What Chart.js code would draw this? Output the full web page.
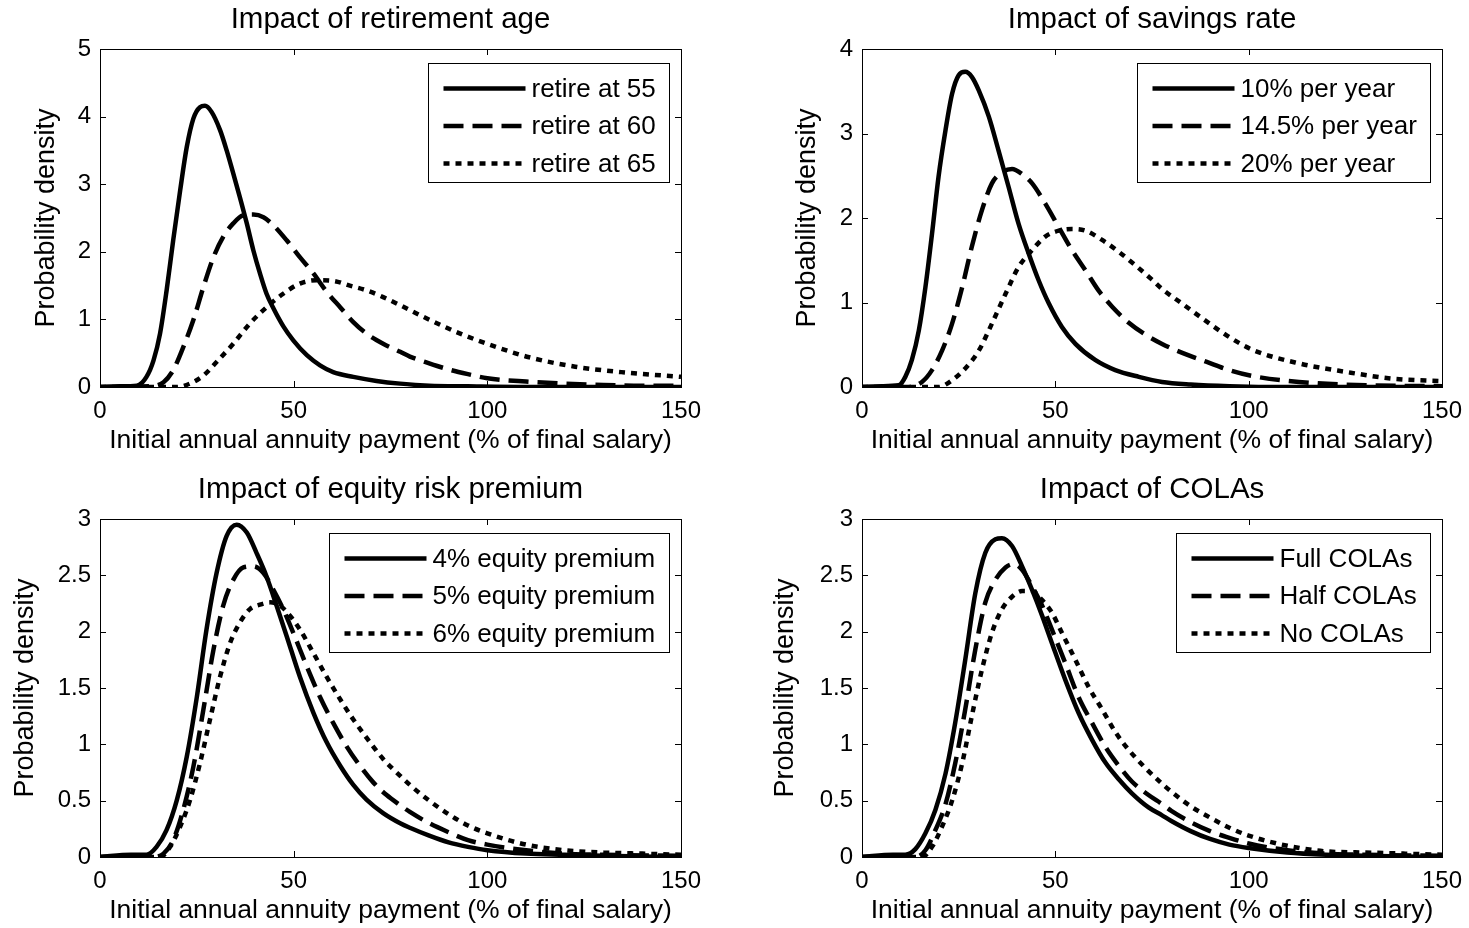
<!DOCTYPE html>
<html>
<head>
<meta charset="UTF-8">
<title>Annuity payment densities</title>
<script src="https://cdn.jsdelivr.net/npm/chart.js@4.4.1/dist/chart.umd.min.js"></script>
<style>
	body { margin: 0; background: #fff; }
	.panel { position: absolute; }
</style>
</head>

<body>
	<div class="panel" style="left:0px;top:0px;width:720px;height:458px"><canvas id="c1"></canvas></div>
	<div class="panel" style="left:740px;top:0px;width:729px;height:458px"><canvas id="c2"></canvas></div>
	<div class="panel" style="left:0px;top:470px;width:720px;height:458px"><canvas id="c3"></canvas></div>
	<div class="panel" style="left:740px;top:470px;width:729px;height:458px"><canvas id="c4"></canvas></div>

	<script>
	// x = % of final salary, y = density

	// impact of retirement age
	var age55X = [0, 5, 9.5, 12, 13.8, 15.5, 17.2, 18.9, 20.7, 22.4, 24.1, 25.8, 27.1, 28.8, 31, 32.7, 34.4, 36.1, 37.9, 39.6, 41.3, 43, 44.8, 47.3, 49.9, 53.4, 56.8, 60.2, 65.4, 71.4, 77.5, 85, 95, 110, 150];
	var age55Y = [0, 0.01, 0.02, 0.15, 0.39, 0.79, 1.43, 2.17, 2.91, 3.55, 3.97, 4.14, 4.16, 4.07, 3.80, 3.50, 3.16, 2.81, 2.42, 2.02, 1.68, 1.38, 1.16, 0.90, 0.69, 0.47, 0.32, 0.22, 0.15, 0.09, 0.05, 0.02, 0.01, 0, 0];
	var age60X = [0, 12.9, 16.4, 18.9, 21.5, 24.1, 26.7, 29.3, 31.8, 34.4, 37, 39.6, 42.2, 44.8, 48.2, 51.6, 55.1, 58.5, 62, 65.4, 68.8, 73.1, 77.5, 80, 85, 90, 95, 100, 110, 120, 130, 140, 150];
	var age60Y = [0, 0.01, 0.07, 0.25, 0.59, 0.99, 1.48, 1.92, 2.22, 2.42, 2.54, 2.55, 2.51, 2.39, 2.17, 1.92, 1.68, 1.41, 1.18, 0.96, 0.79, 0.64, 0.52, 0.45, 0.35, 0.26, 0.19, 0.13, 0.08, 0.05, 0.03, 0.02, 0.02];
	var age65X = [0, 19.8, 23.2, 26.7, 30.1, 34.4, 38.7, 43, 47.3, 51.6, 55.9, 60.2, 64.5, 68.8, 73.1, 77.5, 83.4, 93, 102.4, 110.8, 122.7, 134.6, 150];
	var age65Y = [0, 0, 0.05, 0.17, 0.37, 0.64, 0.94, 1.18, 1.38, 1.53, 1.58, 1.57, 1.50, 1.43, 1.33, 1.21, 1.04, 0.79, 0.59, 0.44, 0.30, 0.22, 0.15];

	// impact of savings rate
	var sav10X = [0, 5, 9.5, 11.2, 12.9, 14.7, 16.4, 18.1, 19.8, 21.6, 23.3, 25, 26.7, 28.4, 30.2, 32.8, 35.3, 37.9, 40.5, 43.1, 45.7, 48.3, 51.7, 55.2, 60.3, 65.5, 71.6, 77.6, 85, 95, 110, 150];
	var sav10Y = [0, 0.01, 0.02, 0.12, 0.32, 0.67, 1.18, 1.81, 2.49, 3.04, 3.47, 3.69, 3.73, 3.67, 3.51, 3.20, 2.80, 2.37, 1.93, 1.58, 1.26, 0.99, 0.71, 0.51, 0.32, 0.20, 0.12, 0.06, 0.03, 0.01, 0, 0];
	var sav145X = [0, 12, 15.5, 18.1, 20.7, 23.3, 25.9, 28.4, 31, 33.6, 36.2, 38.8, 41.4, 44, 47.4, 50.9, 54.3, 57.8, 61.2, 64.7, 69, 73.3, 77.6, 83, 89, 95, 101, 113, 131, 150];
	var sav145Y = [0, 0, 0.06, 0.2, 0.43, 0.75, 1.18, 1.66, 2.09, 2.41, 2.54, 2.58, 2.52, 2.41, 2.17, 1.89, 1.62, 1.38, 1.14, 0.95, 0.76, 0.62, 0.51, 0.40, 0.30, 0.2, 0.13, 0.06, 0.02, 0.01];
	var sav20X = [0, 19.8, 23.3, 26.7, 30.2, 33.6, 37.1, 40.5, 44, 47.4, 50.9, 54.3, 57.8, 62.1, 66.4, 70.7, 75, 77.6, 83, 89, 95, 101, 113, 125, 137, 150];
	var sav20Y = [0, 0, 0.08, 0.22, 0.43, 0.75, 1.10, 1.42, 1.62, 1.78, 1.85, 1.87, 1.85, 1.74, 1.60, 1.44, 1.27, 1.16, 0.98, 0.78, 0.59, 0.44, 0.28, 0.18, 0.10, 0.07];

	// impact of equity risk premium
	var eq4X = [0, 8, 12, 14.6, 17.2, 19.8, 22.4, 25, 27.5, 30.1, 32.7, 35.3, 37.9, 40.4, 43, 45.6, 48.2, 51.6, 55.1, 58.5, 62, 65.4, 68.8, 73.1, 77.5, 80, 85, 90, 95, 100, 110, 120, 130, 150];
	var eq4Y = [0, 0.02, 0.02, 0.09, 0.24, 0.50, 0.89, 1.42, 2.02, 2.52, 2.85, 2.95, 2.88, 2.70, 2.49, 2.23, 1.96, 1.60, 1.28, 1.02, 0.81, 0.64, 0.51, 0.39, 0.30, 0.26, 0.19, 0.13, 0.09, 0.06, 0.03, 0.02, 0.01, 0];
	var eq5X = [0, 13.8, 16.4, 18.9, 21.5, 24.1, 26.7, 29.3, 31.8, 34.4, 37, 39.6, 42.2, 44.8, 47.3, 49.9, 53.4, 56.8, 60.2, 63.7, 67.1, 70.6, 74, 77.5, 80, 85, 90, 95, 100, 110, 120, 130, 150];
	var eq5Y = [0, 0, 0.03, 0.15, 0.42, 0.80, 1.31, 1.84, 2.23, 2.46, 2.57, 2.58, 2.52, 2.37, 2.20, 1.99, 1.69, 1.42, 1.19, 0.98, 0.81, 0.66, 0.55, 0.46, 0.40, 0.30, 0.22, 0.15, 0.11, 0.06, 0.03, 0.02, 0.01];
	var eq6X = [0, 15.5, 18.1, 20.7, 23.2, 25.8, 28.4, 31, 33.6, 36.1, 38.7, 41.3, 43.9, 46.5, 49.1, 51.6, 55.1, 58.5, 62, 65.4, 68.8, 73.1, 77.5, 80, 85, 90, 95, 100, 110, 120, 130, 140, 150];
	var eq6Y = [0, 0, 0.09, 0.27, 0.50, 0.83, 1.22, 1.60, 1.90, 2.08, 2.20, 2.24, 2.26, 2.23, 2.14, 2.02, 1.81, 1.60, 1.40, 1.22, 1.06, 0.87, 0.72, 0.64, 0.50, 0.38, 0.28, 0.21, 0.11, 0.06, 0.04, 0.03, 0.02];

	// impact of COLAs
	var fullX = [0, 8, 11.2, 13.8, 16.4, 19, 21.6, 24.1, 26.7, 29.3, 31.9, 34.5, 36.2, 38.8, 41.4, 44, 46.6, 49.1, 52.6, 56, 59.5, 62.9, 66.4, 69.8, 74.1, 77.6, 80, 85, 90, 95, 100, 110, 120, 130, 150];
	var fullY = [0, 0.02, 0.02, 0.07, 0.21, 0.42, 0.74, 1.19, 1.75, 2.34, 2.70, 2.82, 2.83, 2.76, 2.58, 2.37, 2.14, 1.90, 1.57, 1.28, 1.04, 0.84, 0.69, 0.565, 0.44, 0.37, 0.32, 0.23, 0.16, 0.11, 0.08, 0.04, 0.02, 0.01, 0];
	var halfX = [0, 13.8, 16.4, 19, 21.6, 24.1, 26.7, 29.3, 31.9, 34.5, 37.1, 39.2, 41.4, 44, 46.6, 49.1, 52.6, 56, 59.5, 62.9, 66.4, 69.8, 74.1, 77.6, 80, 85, 90, 95, 100, 110, 120, 130, 150];
	var halfY = [0, 0, 0.06, 0.24, 0.47, 0.83, 1.31, 1.84, 2.26, 2.46, 2.57, 2.60, 2.55, 2.40, 2.23, 2.02, 1.72, 1.42, 1.19, 0.98, 0.81, 0.67, 0.55, 0.47, 0.41, 0.31, 0.23, 0.17, 0.12, 0.06, 0.03, 0.02, 0.01];
	var noneX = [0, 15.5, 18.1, 20.7, 23.3, 25.9, 28.4, 31, 33.6, 36.2, 38.8, 41.4, 44, 46.6, 49.1, 51.7, 55.2, 58.6, 62.1, 65.5, 69, 73.3, 77.6, 80, 85, 90, 95, 100, 110, 120, 130, 140, 150];
	var noneY = [0, 0, 0.09, 0.27, 0.50, 0.83, 1.25, 1.66, 1.99, 2.20, 2.31, 2.36, 2.36, 2.28, 2.17, 1.99, 1.75, 1.51, 1.31, 1.11, 0.95, 0.79, 0.65, 0.58, 0.45, 0.35, 0.26, 0.19, 0.10, 0.05, 0.04, 0.03, 0.02];

	var titles = ['Impact of retirement age', 'Impact of savings rate', 'Impact of equity risk premium', 'Impact of COLAs'];
	var ageLabels = ['retire at 55', 'retire at 60', 'retire at 65'];
	var savLabels = ['10% per year', '14.5% per year', '20% per year'];
	var eqLabels = ['4% equity premium', '5% equity premium', '6% equity premium'];
	var colaLabels = ['Full COLAs', 'Half COLAs', 'No COLAs'];
	var xTitle = 'Initial annual annuity payment (% of final salary)';
	var yTitle = 'Probability density';

	Chart.defaults.font.family = '"Liberation Sans", Arial, Helvetica, sans-serif';
	Chart.defaults.color = '#000';

	var styles = [[], [20, 9], [6, 6]];

	function pts(xs, ys) {
		return xs.map(function(x, i) { return {x: x, y: ys[i]}; });
	}

	// matlab look: box round the axes, ticks pointing in, legend box inside
	var matlabAxes = {
		id: 'matlabAxes',
		afterDraw: function(chart, args, opts) {
			var ctx = chart.ctx, a = chart.chartArea;
			var sx = chart.scales.x, sy = chart.scales.y;
			ctx.save();
			ctx.strokeStyle = '#000';
			ctx.lineWidth = 1;
			ctx.setLineDash([]);
			ctx.strokeRect(Math.round(a.left) + 0.5, Math.round(a.top) + 0.5, Math.round(a.right - a.left), Math.round(a.bottom - a.top));
			ctx.beginPath();
			sx.ticks.forEach(function(t) {
				var p = Math.round(sx.getPixelForValue(t.value)) + 0.5;
				ctx.moveTo(p, a.bottom); ctx.lineTo(p, a.bottom - 6);
				ctx.moveTo(p, a.top); ctx.lineTo(p, a.top + 6);
			});
			sy.ticks.forEach(function(t) {
				var p = Math.round(sy.getPixelForValue(t.value)) + 0.5;
				ctx.moveTo(a.left, p); ctx.lineTo(a.left + 6, p);
				ctx.moveTo(a.right, p); ctx.lineTo(a.right - 6, p);
			});
			ctx.stroke();

			// legend
			var ds = chart.data.datasets;
			ctx.font = '26px "Liberation Sans", Arial, sans-serif';
			var tw = 0;
			ds.forEach(function(d) { tw = Math.max(tw, ctx.measureText(d.label).width); });
			var bw = Math.round(15 + 82 + 6 + tw + 14), bh = 119;
			var bx = Math.round(a.right - 12 - bw) + 0.5, by = Math.round(a.top + 14) + 0.5;
			ctx.fillStyle = '#fff';
			ctx.fillRect(bx, by, bw, bh);
			ctx.strokeRect(bx, by, bw, bh);
			ds.forEach(function(d, i) {
				var ry = by + 25 + i * 37.5;
				ctx.beginPath();
				ctx.lineWidth = 4.5;
				ctx.lineCap = 'butt';
				ctx.setLineDash(d.borderDash);
				ctx.moveTo(bx + 15, ry);
				ctx.lineTo(bx + 15 + 82, ry);
				ctx.stroke();
				ctx.setLineDash([]);
				ctx.fillStyle = '#000';
				ctx.textAlign = 'left';
				ctx.textBaseline = 'middle';
				ctx.fillText(d.label, bx + 15 + 82 + 6, ry + 1);
			});
			ctx.restore();
		}
	};

	function makePanel(id, title, labels, series, ymax, ystep, yWidth, yTitlePad) {
		var datasets = series.map(function(s, i) {
			return {
				label: labels[i],
				data: pts(s[0], s[1]),
				borderColor: '#000',
				borderWidth: 4.5,
				borderDash: styles[i],
				borderCapStyle: 'butt',
				pointRadius: 0,
				fill: false,
				tension: 0.4,
				cubicInterpolationMode: 'monotone'
			};
		});
		return new Chart(document.getElementById(id), {
			type: 'line',
			data: { datasets: datasets },
			plugins: [matlabAxes],
			options: {
				responsive: true,
				maintainAspectRatio: false,
				animation: false,
				layout: { padding: { left: 0, right: yWidth == 100 ? 39 : 27, top: 0, bottom: 0 } },
				plugins: {
					legend: { display: false },
					tooltip: { enabled: false },
					title: {
						display: true,
						text: title,
						fullSize: false,
						color: '#000',
						font: { size: 29.5, weight: 'normal' },
						padding: { top: 2.3, bottom: 11.3 }
					}
				},
				scales: {
					x: {
						type: 'linear',
						min: 0,
						max: 150,
						ticks: { stepSize: 50, padding: 10, font: { size: 24 } },
						grid: { display: false, drawTicks: false },
						border: { display: false },
						title: { display: true, text: xTitle, font: { size: 26.5 }, padding: { top: 0, bottom: 1 } },
						afterFit: function(s) { s.height = 71; s.paddingLeft = 0; s.paddingRight = 0; }
					},
					y: {
						min: 0,
						max: ymax,
						ticks: {
							stepSize: ystep,
							padding: 9,
							font: { size: 24 },
							callback: function(v) { return String(v); }
						},
						grid: { display: false, drawTicks: false },
						border: { display: false },
						title: { display: true, text: yTitle, font: { size: 27 }, padding: { top: yTitlePad, bottom: 0 } },
						afterFit: function(s) { s.width = yWidth; }
					}
				}
			}
		});
	}

	makePanel('c1', titles[0], ageLabels, [[age55X, age55Y], [age60X, age60Y], [age65X, age65Y]], 5, 1, 100, 30.8);
	makePanel('c2', titles[1], savLabels, [[sav10X, sav10Y], [sav145X, sav145Y], [sav20X, sav20Y]], 4, 1, 122, 51.8);
	makePanel('c3', titles[2], eqLabels, [[eq4X, eq4Y], [eq5X, eq5Y], [eq6X, eq6Y]], 3, 0.5, 100, 9.8);
	makePanel('c4', titles[3], colaLabels, [[fullX, fullY], [halfX, halfY], [noneX, noneY]], 3, 0.5, 122, 29.8);
	</script>
</body>
</html>
